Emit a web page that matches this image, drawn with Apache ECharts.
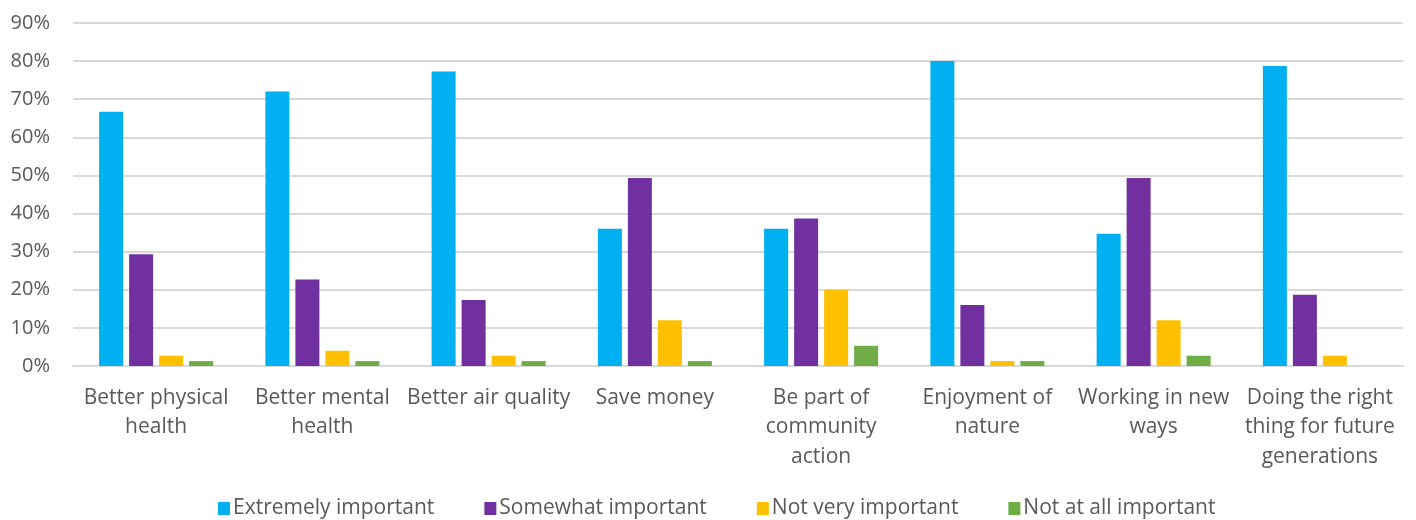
<!DOCTYPE html>
<html><head><meta charset="utf-8">
<script src="https://cdn.jsdelivr.net/npm/echarts@6/dist/echarts.min.js"></script>
<style>html,body{margin:0;padding:0;background:#fff}#c{width:1416px;height:520px}</style>
</head><body><div id="c"></div>
<script>
const categories = ["Better physical\nhealth","Better mental\nhealth","Better air quality","Save money","Be part of\ncommunity\naction","Enjoyment of\nnature","Working in new\nways","Doing the right\nthing for future\ngenerations"];
const seriesNames = ["Extremely important","Somewhat important","Not very important","Not at all important"];
const extremely = [66.7,72.0,77.3,36.0,36.0,80.0,34.7,78.7];
const somewhat = [29.3,22.7,17.3,49.3,38.7,16.0,49.3,18.7];
const notVery = [2.7,4.0,2.7,12.0,20.0,1.3,12.0,2.7];
const notAtAll = [1.3,1.3,1.3,1.3,5.3,1.3,2.7,0];
const colors = ["#00B0F0","#7030A0","#FFC000","#70AD47"];
const font = "'Open Sans', sans-serif";
const chart = echarts.init(document.getElementById('c'));
const data = [extremely, somewhat, notVery, notAtAll];
chart.setOption({
  animation:false,
  textStyle:{fontFamily:font},
  grid:{left:73,right:13,top:23,bottom:154,containLabel:false},
  legend:{top:493,left:213,itemWidth:12,itemHeight:13,itemGap:50,icon:'rect',
    textStyle:{fontSize:21,color:'#595959',fontFamily:font,padding:[0,0,0,-2]},data:seriesNames},
  xAxis:{type:'category',data:categories,axisTick:{show:false},
    axisLine:{lineStyle:{color:'#D9D9D9',width:2}},
    axisLabel:{fontSize:21,color:'#595959',margin:17,lineHeight:29.5,interval:0,fontFamily:font}},
  yAxis:{type:'value',min:0,max:90,interval:10,
    axisLabel:{formatter:'{value}%',fontSize:20,color:'#595959',margin:23,fontFamily:font},
    splitLine:{lineStyle:{color:'#D9D9D9',width:2}},axisLine:{show:false},axisTick:{show:false}},
  series:seriesNames.map((n,i)=>({name:n,type:'bar',data:data[i],barWidth:24,barGap:'25%',
    itemStyle:{color:colors[i]}}))
});
</script></body></html>
